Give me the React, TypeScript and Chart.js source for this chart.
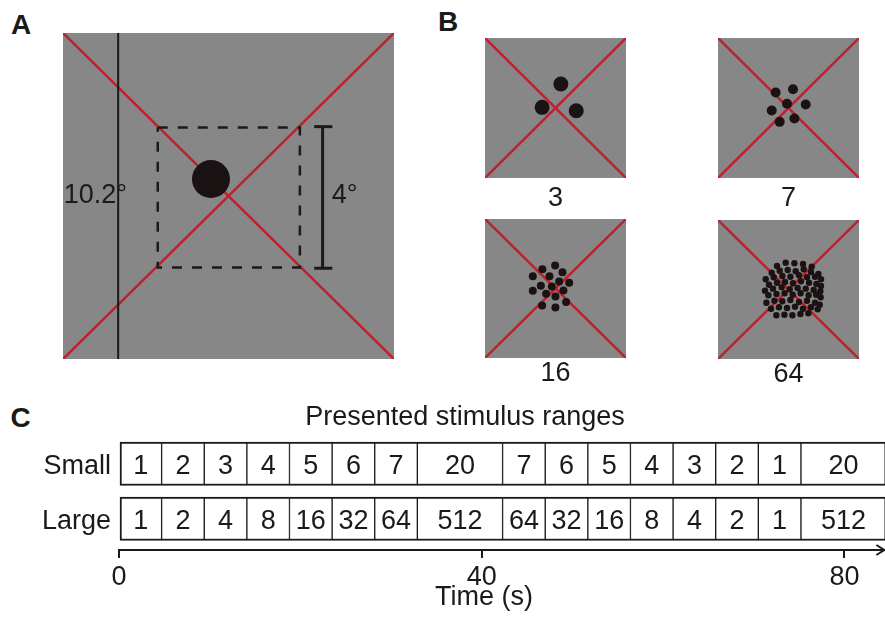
import React, { useEffect, useRef } from "react";
import { Chart, registerables } from "chart.js";

Chart.register(...registerables);

const FONT = "'Liberation Sans', Arial, Helvetica, sans-serif";
const INK = "#1a1a1a";
const FIELD_GRAY = "#878787";
const FIX_RED = "#c0202e";
const DOT_COLOR = "#1b1313";
const TEXT_PX = 27;

Chart.defaults.font.family = FONT;
Chart.defaults.color = INK;

// ---------------- Panel A (visual degrees) ----------------
const DISPLAY_EXTENT = [-5.1, 5.1];
const SIZE_LINE_X = -3.4;
const WINDOW_X = [-2.18, 2.2, 2.2, -2.18, -2.18];
const WINDOW_Y = [2.14, 2.14, -2.24, -2.24, 2.14];
const SCALE_BAR_X = 2.9;
const SCALE_BAR_Y = [2.17, -2.26];
const SCALE_CAP_X = [2.64, 3.2];
const SAMPLE_DOT = [-0.54, 0.53];
const DEG_LABELS = ["10.2°", "4°"];
const DEG_LABEL_X = [-5.08, 3.18];
const DEG_LABEL_Y = [0, 0];

// ---------------- Panel B (normalised stimulus field) ----------------
const NUMEROSITY_LABELS = ["3", "7", "16", "64"];
const DOTS_3 = [
  [0.076, 0.343], [-0.19, 0.009], [0.294, -0.039],
];
const DOTS_7 = [
  [-0.182, 0.222], [0.064, 0.269], [-0.021, 0.06], [0.244, 0.05],
  [-0.238, -0.036], [-0.125, -0.198], [0.084, -0.15],
];
const DOTS_16 = [
  [-0.186, 0.278], [-0.005, 0.33], [0.099, 0.235], [-0.322, 0.177],
  [-0.086, 0.177], [0.052, 0.1], [0.194, 0.081], [-0.208, 0.038],
  [-0.052, 0.028], [-0.322, -0.034], [-0.133, -0.077], [0.113, -0.029],
  [-0.001, -0.116], [-0.19, -0.245], [-0.001, -0.274], [0.151, -0.196],
];
const DOTS_64 = [
  [-0.163, 0.338], [-0.04, 0.386], [0.084, 0.377], [0.206, 0.367], [0.329, 0.328],
  [-0.238, 0.242], [-0.125, 0.271], [-0.011, 0.281], [0.102, 0.262], [0.216, 0.291], [0.319, 0.252], [0.424, 0.223],
  [-0.323, 0.147], [-0.21, 0.176], [-0.087, 0.194], [0.027, 0.184], [0.149, 0.204], [0.262, 0.176], [0.376, 0.184], [0.461, 0.147],
  [-0.277, 0.069], [-0.163, 0.098], [-0.05, 0.108], [0.064, 0.089], [0.177, 0.118], [0.291, 0.098], [0.396, 0.079], [0.461, 0.05],
  [-0.333, -0.017], [-0.22, 0.012], [-0.096, 0.032], [0.017, 0.003], [0.13, 0.022], [0.244, 0.012], [0.357, -0.007], [0.452, -0.026],
  [-0.285, -0.083], [-0.17, -0.065], [-0.055, -0.055], [0.06, -0.075], [0.172, -0.055], [0.286, -0.083], [0.392, -0.075], [0.456, -0.112],
  [-0.313, -0.19], [-0.2, -0.161], [-0.087, -0.17], [0.027, -0.151], [0.149, -0.18], [0.262, -0.161], [0.376, -0.19], [0.443, -0.219],
  [-0.248, -0.276], [-0.135, -0.256], [-0.021, -0.266], [0.092, -0.247], [0.206, -0.276], [0.319, -0.256], [0.414, -0.285],
  [-0.172, -0.371], [-0.058, -0.363], [0.055, -0.371], [0.169, -0.353], [0.282, -0.342],
];
const DOT_SETS = [DOTS_3, DOTS_7, DOTS_16, DOTS_64];
const FIELD_EXTENT = [-1, 1];

// ---------------- Panel C (presented ranges over time) ----------------
const ROW_LABELS = ["Small", "Large"];
const SMALL_RANGE = ["1", "2", "3", "4", "5", "6", "7", "20", "7", "6", "5", "4", "3", "2", "1", "20"];
const LARGE_RANGE = ["1", "2", "4", "8", "16", "32", "64", "512", "64", "32", "16", "8", "4", "2", "1", "512"];
const BLOCK_SECONDS = [4.7, 4.7, 4.7, 4.7, 4.7, 4.7, 4.7, 9.4, 4.7, 4.7, 4.7, 4.7, 4.7, 4.7, 4.7, 9.4];
const TIME_TICKS = [0, 40, 80];
const TIME_AXIS_MAX = 80.5;
const TIME_ARROW_END = 84.4;

// ---------------- layout (pixels) ----------------
const B_LAYOUT = [
  { left: 485, top: 38, width: 141, height: 177, square: 140, dot: 7.5 },
  { left: 718, top: 38, width: 141, height: 177, square: 140, dot: 5 },
  { left: 485, top: 219, width: 141, height: 171, square: 139, dot: 4 },
  { left: 718, top: 220, width: 141, height: 171, square: 139, dot: 3.2 },
];

const textFont = { family: FONT, size: TEXT_PX, lineHeight: 1.2, weight: "normal" as any };

const baseOptions: any = {
  animation: false,
  responsive: false,
  devicePixelRatio: 1,
  events: [],
  layout: { autoPadding: false, padding: 0 },
  plugins: { legend: { display: false }, tooltip: { enabled: false }, title: { display: false } },
};

const grayField = {
  id: "grayField",
  beforeDatasetsDraw(chart: any) {
    const { ctx, chartArea } = chart;
    ctx.save();
    ctx.fillStyle = FIELD_GRAY;
    ctx.fillRect(chartArea.left, chartArea.top, chartArea.right - chartArea.left, chartArea.bottom - chartArea.top);
    ctx.restore();
  },
};

const degreeLabels = {
  id: "degreeLabels",
  afterDatasetsDraw(chart: any) {
    const { ctx, scales } = chart;
    ctx.save();
    ctx.font = `${TEXT_PX}px ${FONT}`;
    ctx.fillStyle = INK;
    ctx.textAlign = "left";
    ctx.textBaseline = "middle";
    DEG_LABELS.forEach((t, i) => {
      ctx.fillText(t, scales.x.getPixelForValue(DEG_LABEL_X[i]), scales.y.getPixelForValue(DEG_LABEL_Y[i]));
    });
    ctx.restore();
  },
};

const blockLabels = {
  id: "blockLabels",
  afterDatasetsDraw(chart: any) {
    const { ctx } = chart;
    ctx.save();
    ctx.font = `${TEXT_PX}px ${FONT}`;
    ctx.fillStyle = INK;
    ctx.textAlign = "center";
    ctx.textBaseline = "middle";
    chart.data.datasets.forEach((_: any, i: number) => {
      const meta = chart.getDatasetMeta(i);
      meta.data.forEach((bar: any, j: number) => {
        const { x, y, base } = bar.getProps(["x", "y", "base"], true);
        const text = (j === 0 ? SMALL_RANGE : LARGE_RANGE)[i];
        ctx.fillText(text, (x + base) / 2, y + 2.5);
      });
    });
    ctx.restore();
  },
};

const timeArrow = {
  id: "timeArrow",
  afterDatasetsDraw(chart: any) {
    const { ctx, chartArea, scales } = chart;
    const y0 = chartArea.bottom;
    const x0 = scales.x.getPixelForValue(TIME_TICKS[0]);
    const x1 = scales.x.getPixelForValue(TIME_ARROW_END);
    ctx.save();
    ctx.strokeStyle = INK;
    ctx.lineWidth = 2;
    ctx.beginPath();
    ctx.moveTo(x0 - 1, y0);
    ctx.lineTo(x1, y0);
    ctx.stroke();
    ctx.beginPath();
    ctx.moveTo(x1 - 8, y0 - 5);
    ctx.lineTo(x1, y0);
    ctx.lineTo(x1 - 8, y0 + 5);
    ctx.stroke();
    ctx.restore();
  },
};

const xy = (xs: number[], ys: number[]) => xs.map((x, i) => ({ x, y: ys[i] }));

function strokeSet(data: any[], color: string, width: number, dash: number[] = []) {
  return {
    data,
    showLine: true,
    borderColor: color,
    borderWidth: width,
    borderDash: dash,
    borderJoinStyle: "miter",
    borderCapStyle: "butt",
    pointRadius: 0,
    fill: false,
  };
}

function buildPanelA(): any {
  const [lo, hi] = DISPLAY_EXTENT;
  return {
    type: "scatter",
    data: {
      datasets: [
        { data: [{ x: SAMPLE_DOT[0], y: SAMPLE_DOT[1] }], pointRadius: 19, backgroundColor: DOT_COLOR, borderWidth: 0 },
        strokeSet(xy(WINDOW_X, WINDOW_Y), INK, 2.5, [10, 10]),
        strokeSet(xy([SIZE_LINE_X, SIZE_LINE_X], DISPLAY_EXTENT), INK, 2),
        strokeSet(xy([SCALE_BAR_X, SCALE_BAR_X], SCALE_BAR_Y), INK, 3),
        strokeSet(xy(SCALE_CAP_X, [SCALE_BAR_Y[0], SCALE_BAR_Y[0]]), INK, 3),
        strokeSet(xy(SCALE_CAP_X, [SCALE_BAR_Y[1], SCALE_BAR_Y[1]]), INK, 3),
        strokeSet(xy(DISPLAY_EXTENT, DISPLAY_EXTENT), FIX_RED, 2.5),
        strokeSet(xy(DISPLAY_EXTENT, [hi, lo]), FIX_RED, 2.5),
      ],
    },
    options: {
      ...baseOptions,
      scales: {
        x: { type: "linear", min: lo, max: hi, display: false },
        y: { type: "linear", min: lo, max: hi, display: false },
      },
    },
    plugins: [grayField, degreeLabels],
  };
}

function buildPanelB(k: number): any {
  const [lo, hi] = FIELD_EXTENT;
  const lay = B_LAYOUT[k];
  const gap = lay.height - lay.square - TEXT_PX * 1.2;
  return {
    type: "scatter",
    data: {
      datasets: [
        {
          data: DOT_SETS[k].map(([x, y]) => ({ x, y })),
          pointRadius: lay.dot,
          backgroundColor: DOT_COLOR,
          borderWidth: 0,
        },
        strokeSet(xy(FIELD_EXTENT, FIELD_EXTENT), FIX_RED, 2.5),
        strokeSet(xy(FIELD_EXTENT, [hi, lo]), FIX_RED, 2.5),
      ],
    },
    options: {
      ...baseOptions,
      scales: {
        x: {
          type: "linear",
          min: lo,
          max: hi,
          ticks: { display: false },
          grid: { display: false, drawTicks: false },
          border: { display: false },
          title: { display: true, text: NUMEROSITY_LABELS[k], color: INK, font: textFont, padding: { top: gap, bottom: 0 } },
        },
        y: { type: "linear", min: lo, max: hi, display: false },
      },
    },
    plugins: [grayField],
  };
}

function buildPanelC(): any {
  const last = BLOCK_SECONDS.length - 1;
  return {
    type: "bar",
    data: {
      datasets: BLOCK_SECONDS.map((sec, i) => ({
        label: `Block ${i + 1}`,
        data: [
          { x: sec, y: 0 },
          { x: sec, y: 1 },
        ],
        stack: "timeline",
        backgroundColor: "#ffffff",
        borderColor: INK,
        borderWidth: { top: 2, bottom: 2, left: i === 0 ? 2 : 1, right: i === last ? 2 : 1 },
        borderSkipped: false,
        barThickness: 43.5,
        clip: false,
      })),
    },
    options: {
      ...baseOptions,
      indexAxis: "y",
      plugins: {
        legend: { display: false },
        tooltip: { enabled: false },
        title: {
          display: true,
          text: "Presented stimulus ranges",
          color: INK,
          font: textFont,
          padding: { top: 6.4, bottom: 2.2 },
        },
      },
      scales: {
        x: {
          type: "linear",
          stacked: true,
          min: TIME_TICKS[0],
          max: TIME_AXIS_MAX,
          afterBuildTicks: (s: any) => {
            s.ticks = TIME_TICKS.map((v) => ({ value: v }));
          },
          afterFit: (s: any) => {
            s.height = 69;
          },
          grid: { drawOnChartArea: false, drawTicks: true, tickLength: 8, color: INK, lineWidth: 2 },
          border: { display: false },
          ticks: { color: INK, font: textFont, padding: 3.8, maxRotation: 0, autoSkip: false },
          title: { display: true, text: "Time (s)", color: INK, font: textFont, padding: { top: 0, bottom: 4.8 } },
        },
        y: {
          type: "linear",
          stacked: true,
          reverse: true,
          offset: false,
          min: -0.504,
          max: 1.569,
          afterBuildTicks: (s: any) => {
            s.ticks = ROW_LABELS.map((_, i) => ({ value: i }));
          },
          afterFit: (s: any) => {
            s.width = 119;
          },
          grid: { display: false, drawTicks: false, offset: false },
          border: { display: false },
          ticks: {
            color: INK,
            font: textFont,
            padding: 8,
            labelOffset: 2.5,
            callback: (v: any) => ROW_LABELS[Number(v)] ?? "",
          },
        },
        yRight: {
          type: "linear",
          position: "right",
          display: true,
          offset: false,
          afterFit: (s: any) => {
            s.width = 81;
          },
          ticks: { display: false },
          grid: { display: false, drawTicks: false },
          border: { display: false },
        },
      },
    },
    plugins: [blockLabels, timeArrow],
  };
}

function ChartCanvas(props: { left: number; top: number; width: number; height: number; build: () => any }) {
  const ref = useRef<HTMLCanvasElement | null>(null);
  useEffect(() => {
    const chart = new Chart(ref.current as HTMLCanvasElement, props.build());
    return () => chart.destroy();
  }, []);
  return (
    <canvas
      ref={ref}
      width={props.width}
      height={props.height}
      style={{ position: "absolute", left: props.left, top: props.top, width: props.width, height: props.height }}
    />
  );
}

function Letter(props: { text: string; left: number; top: number }) {
  return (
    <div
      style={{
        position: "absolute",
        left: props.left,
        top: props.top,
        fontFamily: FONT,
        fontWeight: "bold",
        fontSize: 28,
        lineHeight: "28px",
        color: INK,
      }}
    >
      {props.text}
    </div>
  );
}

export default function App() {
  return (
    <div
      style={{
        position: "fixed",
        left: 0,
        top: 0,
        width: 885,
        height: 619,
        overflow: "hidden",
        background: "#ffffff",
      }}
    >
      <Letter text="A" left={11} top={11.4} />
      <Letter text="B" left={438} top={8} />
      <Letter text="C" left={10.5} top={404.4} />
      <ChartCanvas left={63} top={33} width={331} height={326} build={buildPanelA} />
      {B_LAYOUT.map((lay, k) => (
        <ChartCanvas key={k} left={lay.left} top={lay.top} width={lay.width} height={lay.height} build={() => buildPanelB(k)} />
      ))}
      <ChartCanvas left={0} top={395} width={930} height={224} build={buildPanelC} />
    </div>
  );
}
